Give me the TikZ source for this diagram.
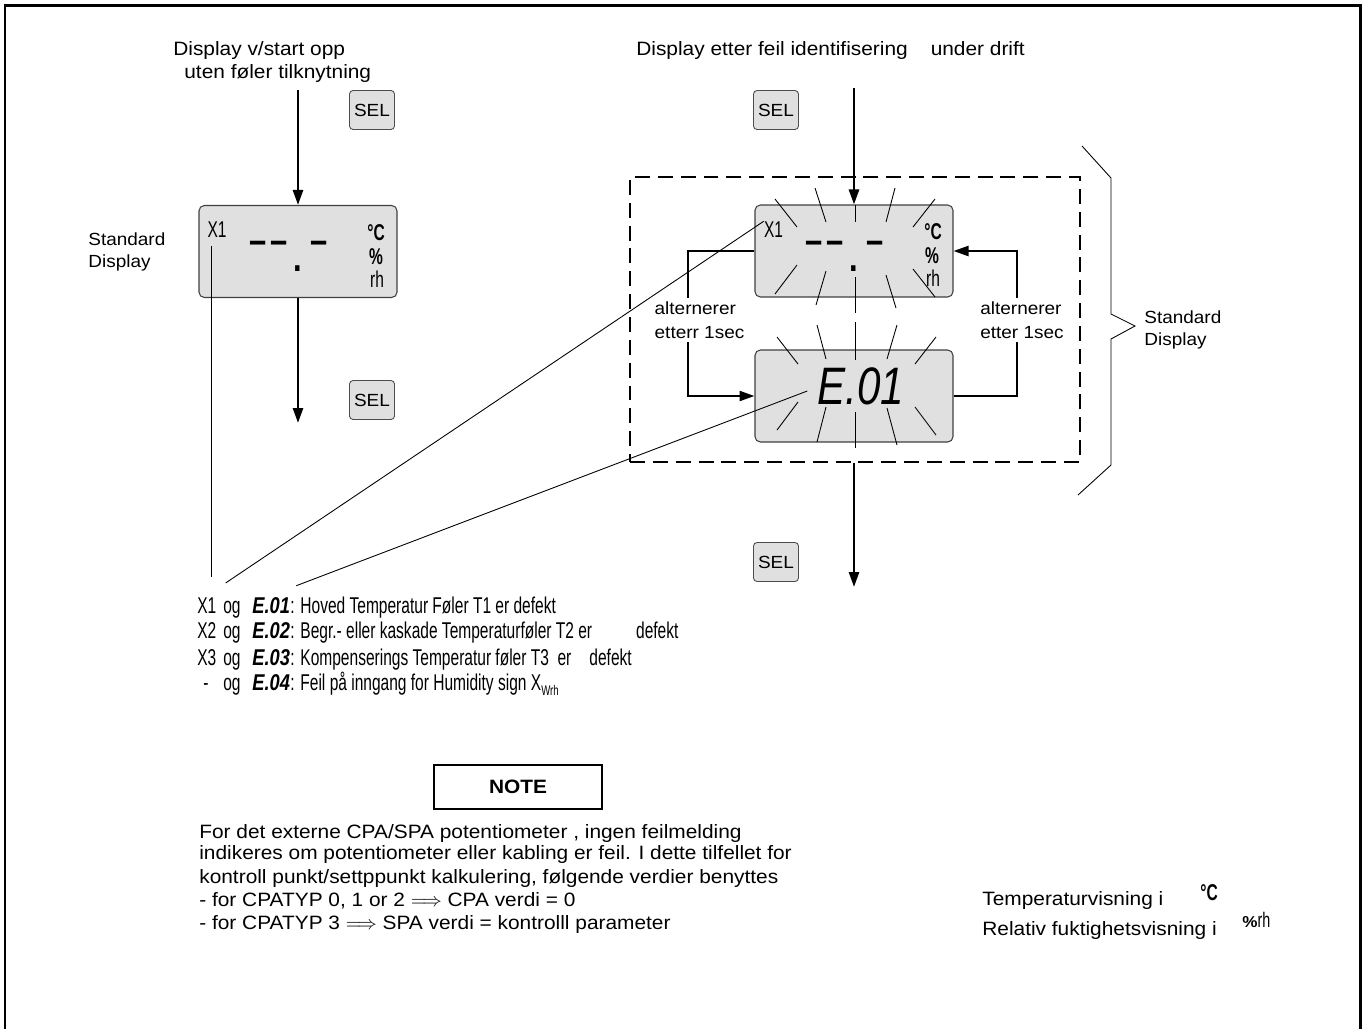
\documentclass[tikz,border=0pt]{standalone}
\usepackage{fontspec}
\setmainfont{Liberation Sans}[FakeStretch=1.08]
\newfontfamily\narrowfont{Liberation Sans}[FakeStretch=0.68]
\newfontfamily\segfont{Liberation Sans}[FakeStretch=0.8]
\usetikzlibrary{arrows.meta}

\begin{document}
\begin{tikzpicture}[x=0.02cm,y=-0.02cm,font=\fontsize{11}{13}\selectfont,
  flow/.style={line width=1.5pt,-{Triangle[length=0.3cm,width=0.2cm]}},
  link/.style={line width=1.3pt,-{Triangle[length=0.3cm,width=0.2cm]}},
  ray/.style={line width=0.5pt},
  pointer/.style={line width=0.5pt},
  lcd/.style={draw=black!75,fill=black!12,rounded corners=3pt,line width=0.6pt,minimum width=3.96cm,minimum height=1.84cm,inner sep=0pt},
  selkey/.style={draw=black!70,fill=black!12,rounded corners=2pt,line width=0.5pt,minimum width=0.9cm,minimum height=0.78cm,inner sep=0pt,font=\fontsize{10}{12}\selectfont},
  txt/.style={anchor=base west,inner sep=0pt},
  legend/.style={txt,font=\narrowfont\fontsize{13}{15}\selectfont},
  errcode/.style={txt,font=\segfont\bfseries\itshape\fontsize{13}{15}\selectfont},
  lcdunit/.style={inner sep=0pt,font=\narrowfont\bfseries\fontsize{13}{13}\selectfont},
  lcdsign/.style={inner sep=0pt,font=\narrowfont\fontsize{13}{13}\selectfont},
  lcddash/.style={anchor=base,inner sep=0pt,font=\segfont\bfseries\fontsize{22}{22}\selectfont}]
\useasboundingbox (0,0) rectangle (1367,1029);
\draw[line width=1.7pt] (5,1029) -- (5,5) -- (1360,5) -- (1360,1029);
\node[txt] (title-start-a) at (173,55) {Display v/start opp};
\node[txt] (title-start-b) at (184,78) {uten føler tilknytning};
\node[txt] (title-run) at (636,55) {Display etter feil identifisering\hspace{0.46cm}under drift};
\node[selkey] (sel-start-a) at (372,110) {SEL};
\node[selkey] (sel-start-b) at (372,400) {SEL};
\node[selkey] (sel-run-a) at (776,110) {SEL};
\node[selkey] (sel-run-b) at (776,562) {SEL};
\node[anchor=west,align=left,inner sep=0pt,font=\fontsize{10}{12.5}\selectfont] (std-start) at (88,252) {Standard\\Display};
\node[lcd] (disp-start) at (298,251.5) {};
\node[lcdsign] (x1-start) at (217,229.5) {X1};
\node[lcddash] (dash-start) at (288.5,253) {–\hspace{0.08cm}–\hspace{0.2cm}\makebox[0pt]{\raisebox{-0.49em}{.}}\hspace{0.24cm}–};
\node[lcdunit] (deg-start) at (376,233) {°C};
\node[lcdunit] (pct-start) at (376,257) {\%};
\node[lcdsign] (rh-start) at (377,279) {rh};
\coordinate (start-in) at (298,90);
\coordinate (start-out) at (298,423);
\draw[flow] (start-in) -- (disp-start);
\draw[flow] (disp-start) -- (start-out);
\node[draw,dash pattern=on 8.5pt off 4.5pt,line width=1.4pt,minimum width=9cm,minimum height=5.7cm] (run-frame) at (855,319.5) {};
\node[lcd] (disp-run) at (854,251) {};
\node[lcd] (disp-err) at (854,396) {};
\node[lcdsign] (x1-run) at (773.5,229.5) {X1};
\node[lcddash] (dash-run) at (844.5,253) {–\hspace{0.08cm}–\hspace{0.2cm}\makebox[0pt]{\raisebox{-0.49em}{.}}\hspace{0.24cm}–};
\node[lcdunit] (deg-run) at (933,232) {°C};
\node[lcdunit] (pct-run) at (932,256) {\%};
\node[lcdsign] (rh-run) at (933,278) {rh};
\node[inner sep=0pt,font=\segfont\itshape\fontsize{30}{30}\selectfont] (err-code) at (861,386) {E.01};
\draw[ray] (775,199) -- (797,227);
\draw[ray] (815,188) -- (826,222);
\draw[ray] (855,205) -- (855,222);
\draw[ray] (895,188) -- (886,222);
\draw[ray] (935,199) -- (913,227);
\draw[ray] (797,265) -- (775,294);
\draw[ray] (826,271) -- (816,305);
\draw[ray] (855,277) -- (855,313);
\draw[ray] (886,275) -- (896,308);
\draw[ray] (913,269) -- (935,297);
\draw[ray] (777,337) -- (798,364);
\draw[ray] (817,325) -- (826,359);
\draw[ray] (855,322) -- (855,360);
\draw[ray] (897,325) -- (887,359);
\draw[ray] (936,337) -- (915,364);
\draw[ray] (798,402) -- (777,430);
\draw[ray] (826,407) -- (817,442);
\draw[ray] (855,412) -- (855,448);
\draw[ray] (887,408) -- (897,445);
\draw[ray] (915,407) -- (936,435);
\coordinate (run-in) at (854,88);
\coordinate (run-out) at (854,587);
\draw[flow] (run-in) -- (disp-run);
\draw[flow] (run-frame.south -| run-out) -- (run-out);
\coordinate (alt-left-bend) at (688,320);
\coordinate (alt-right-bend) at (1017,320);
\draw[link] (disp-run.west) -| (alt-left-bend) |- (disp-err.west);
\draw[link] (disp-err.east) -| (alt-right-bend) |- (disp-run.east);
\node[fill=white,align=left,inner sep=2pt,font=\fontsize{10}{13.6}\selectfont] (alt-left) at (699.5,320) {alternerer\\etterr 1sec};
\node[fill=white,align=left,inner sep=2pt,font=\fontsize{10}{13.6}\selectfont] (alt-right) at (1022,320) {alternerer\\etter 1sec};
\draw[pointer] (1082,146) -- (1111,178) -- (1111,314) -- (1135,326) -- (1111,339) -- (1111,465) -- (1078,495);
\node[anchor=west,align=left,inner sep=0pt,font=\fontsize{10}{12.5}\selectfont] (std-run) at (1144,330) {Standard\\Display};
\node[legend] (x1-key) at (197,613) {X1};
\node[legend] (og-1) at (223,613) {og};
\node[errcode] (code-e01) at (252,613) {E.01};
\node[legend] (desc-e01) at (290,613) {: Hoved Temperatur Føler T1 er defekt};
\node[legend] (x2-key) at (197,638) {X2};
\node[legend] (og-2) at (223,638) {og};
\node[errcode] (code-e02) at (252,638) {E.02};
\node[legend] (desc-e02) at (290,638) {: Begr.- eller kaskade Temperaturføler T2 er\hspace{0.88cm}defekt};
\node[legend] (x3-key) at (197,665) {X3};
\node[legend] (og-3) at (223,665) {og};
\node[errcode] (code-e03) at (252,665) {E.03};
\node[legend] (desc-e03) at (290,665) {: Kompenserings Temperatur føler T3\ \ er\hspace{0.36cm}defekt};
\node[legend] (x4-key) at (203,690) {-};
\node[legend] (og-4) at (223,690) {og};
\node[errcode] (code-e04) at (252,690) {E.04};
\node[legend] (desc-e04) at (290,690) {: Feil på inngang for Humidity sign X\raisebox{-0.45ex}{\fontsize{8}{8}\selectfont Wrh}};
\draw[pointer] ([xshift=0.1cm]x1-key.north) ++(0,0.4cm) -- ([xshift=0.1cm,yshift=-0.16cm]x1-key.north |- x1-start.south);
\draw[pointer] (x1-run.north west) -- ([shift={(0.18cm,0.28cm)}]x1-key.north east);
\draw[pointer] ([xshift=-0.2cm,yshift=-0.1cm]err-code.west) -- ([shift={(0.12cm,0.22cm)}]code-e01.north east);
\node[draw,line width=0.6pt,minimum width=3.36cm,minimum height=0.88cm,font=\bfseries\fontsize{11}{13}\selectfont] (note-box) at (518,787) {NOTE};
\node[txt] (note-l1) at (199,838) {For det externe CPA/SPA potentiometer , ingen feilmelding};
\node[txt] (note-l2) at (199,859) {indikeres om potentiometer eller kabling er feil. I dette tilfellet for};
\node[txt] (note-l3) at (199,883) {kontroll punkt/settppunkt kalkulering, følgende verdier benyttes};
\node[txt] (note-l4) at (199,906) {- for CPATYP 0, 1 or 2 \smash{$\Longrightarrow$} CPA verdi = 0};
\node[txt] (note-l5) at (199,929) {- for CPATYP 3 \smash{$\Longrightarrow$} SPA verdi = kontrolll parameter};
\node[txt] (unit-temp) at (982,905) {Temperaturvisning i};
\node[txt,font=\narrowfont\bfseries\fontsize{13}{15}\selectfont] (unit-temp-sign) at (1200,900) {°C};
\node[txt] (unit-hum) at (982,935) {Relativ fuktighetsvisning i};
\node[txt] (unit-hum-sign) at (1242,927) {{\bfseries\fontsize{9}{10}\selectfont\%}{\narrowfont\fontsize{12}{12}\selectfont rh}};
\end{tikzpicture}
\end{document}
